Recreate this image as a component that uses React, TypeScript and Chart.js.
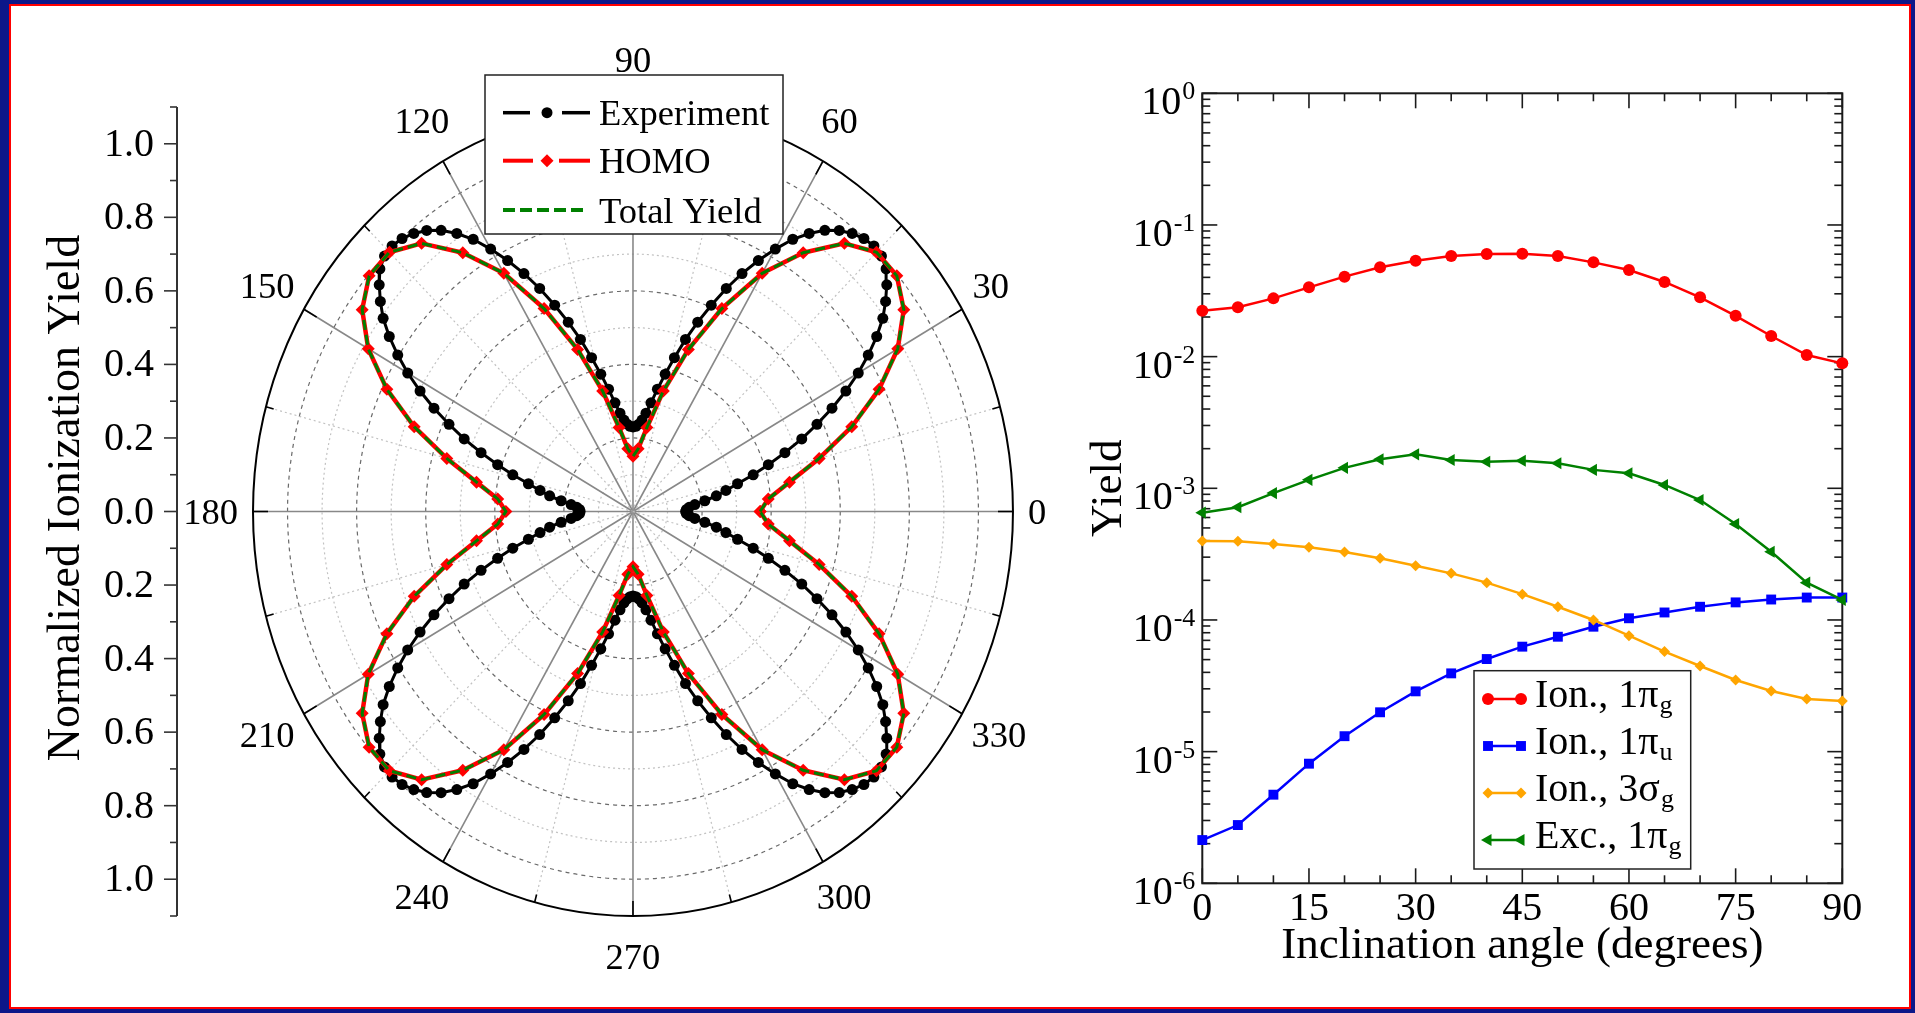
import { useEffect, useRef } from 'react';
import { Chart, registerables } from 'chart.js';

Chart.register(...registerables);

const SERIF = '"Liberation Serif", "Times New Roman", Times, serif';

// ---------------- Left panel (polar plot) data ----------------
// Experiment: one value every 2 degrees, 0..358
const EXPERIMENT_STEP_DEG = 2;
const EXPERIMENT_R = [
  0.153, 0.155, 0.163, 0.180, 0.210, 0.245, 0.275, 0.312, 0.362, 0.412, 0.468, 0.527, 0.583, 0.641, 0.698, 0.753,
  0.803, 0.851, 0.894, 0.928, 0.959, 0.986, 1.000, 1.004, 0.999, 0.987, 0.970, 0.945, 0.912, 0.873, 0.824, 0.773,
  0.720, 0.664, 0.605, 0.548, 0.492, 0.435, 0.385, 0.340, 0.300, 0.270, 0.250, 0.238, 0.232, 0.230,
  0.232, 0.238, 0.250, 0.270, 0.300, 0.340, 0.385, 0.435, 0.492, 0.548, 0.605, 0.664, 0.720, 0.773, 0.824, 0.873,
  0.912, 0.945, 0.970, 0.987, 0.999, 1.004, 1.000, 0.986, 0.959, 0.928, 0.894, 0.851, 0.803, 0.753, 0.698, 0.641,
  0.583, 0.527, 0.468, 0.412, 0.362, 0.312, 0.275, 0.245, 0.210, 0.180, 0.163, 0.155,
  0.153, 0.155, 0.163, 0.180, 0.210, 0.245, 0.275, 0.312, 0.362, 0.412, 0.468, 0.527, 0.583, 0.641, 0.698, 0.753,
  0.803, 0.851, 0.894, 0.928, 0.959, 0.986, 1.000, 1.004, 0.999, 0.987, 0.970, 0.945, 0.912, 0.873, 0.824, 0.773,
  0.720, 0.664, 0.605, 0.548, 0.492, 0.435, 0.385, 0.340, 0.300, 0.270, 0.250, 0.238, 0.232, 0.230,
  0.232, 0.238, 0.250, 0.270, 0.300, 0.340, 0.385, 0.435, 0.492, 0.548, 0.605, 0.664, 0.720, 0.773, 0.824, 0.873,
  0.912, 0.945, 0.970, 0.987, 0.999, 1.004, 1.000, 0.986, 0.959, 0.928, 0.894, 0.851, 0.803, 0.753, 0.698, 0.641,
  0.583, 0.527, 0.468, 0.412, 0.362, 0.312, 0.275, 0.245, 0.210, 0.180, 0.163, 0.155,
];

// HOMO: one value every 5 degrees, 0..355
const HOMO_STEP_DEG = 5;
const HOMO_R = [
  0.368, 0.393, 0.460, 0.558, 0.674, 0.786, 0.885, 0.957, 0.997, 0.997, 0.952, 0.859, 0.748, 0.609, 0.469, 0.339, 0.232, 0.171, 0.150,
  0.171, 0.232, 0.339, 0.469, 0.609, 0.748, 0.859, 0.952, 0.997, 0.997, 0.957, 0.885, 0.786, 0.674, 0.558, 0.460, 0.393,
  0.368, 0.393, 0.460, 0.558, 0.674, 0.786, 0.885, 0.957, 0.997, 0.997, 0.952, 0.859, 0.748, 0.609, 0.469, 0.339, 0.232, 0.171, 0.150,
  0.171, 0.232, 0.339, 0.469, 0.609, 0.748, 0.859, 0.952, 0.997, 0.997, 0.957, 0.885, 0.786, 0.674, 0.558, 0.460, 0.393,
];

// Total yield: one value every 5 degrees, 0..355
const TOTAL_YIELD_STEP_DEG = 5;
const TOTAL_YIELD_R = [
  0.368, 0.393, 0.460, 0.558, 0.674, 0.786, 0.885, 0.957, 0.997, 0.997, 0.952, 0.859, 0.748, 0.609, 0.469, 0.339, 0.232, 0.171, 0.150,
  0.171, 0.232, 0.339, 0.469, 0.609, 0.748, 0.859, 0.952, 0.997, 0.997, 0.957, 0.885, 0.786, 0.674, 0.558, 0.460, 0.393,
  0.368, 0.393, 0.460, 0.558, 0.674, 0.786, 0.885, 0.957, 0.997, 0.997, 0.952, 0.859, 0.748, 0.609, 0.469, 0.339, 0.232, 0.171, 0.150,
  0.171, 0.232, 0.339, 0.469, 0.609, 0.748, 0.859, 0.952, 0.997, 0.997, 0.957, 0.885, 0.786, 0.674, 0.558, 0.460, 0.393,
];

const POLAR_ANGLE_LABELS = [0, 30, 60, 90, 120, 150, 180, 210, 240, 270, 300, 330];
const POLAR_RINGS = [0.1, 0.2, 0.3, 0.4, 0.5, 0.6, 0.7, 0.8, 0.9, 1.0];
const POLAR_OUTER_R = 1.1;
const YIELD_AXIS_TICKS = [
  -1.1, -1.0, -0.9, -0.8, -0.7, -0.6, -0.5, -0.4, -0.3, -0.2, -0.1, 0,
  0.1, 0.2, 0.3, 0.4, 0.5, 0.6, 0.7, 0.8, 0.9, 1.0, 1.1,
];
const POLAR_LEGEND = ['Experiment', 'HOMO', 'Total Yield'];

// ---------------- Right panel data ----------------
const INCLINATION_DEG = [0, 5, 10, 15, 20, 25, 30, 35, 40, 45, 50, 55, 60, 65, 70, 75, 80, 85, 90];
const ION_1PI_G = [0.0223, 0.0237, 0.0277, 0.0336, 0.0405, 0.0477, 0.0535, 0.0581, 0.0602, 0.0605, 0.0581, 0.052, 0.0455, 0.0369, 0.0282, 0.0204, 0.01435, 0.01028, 0.00889];
const ION_1PI_U = [2.13e-6, 2.77e-6, 4.71e-6, 8.1e-6, 1.31e-5, 1.99e-5, 2.87e-5, 3.93e-5, 5.05e-5, 6.27e-5, 7.46e-5, 8.89e-5, 1.03e-4, 1.14e-4, 1.26e-4, 1.36e-4, 1.43e-4, 1.48e-4, 1.48e-4];
const ION_3SIGMA_G = [3.98e-4, 3.96e-4, 3.78e-4, 3.56e-4, 3.28e-4, 2.94e-4, 2.58e-4, 2.26e-4, 1.92e-4, 1.57e-4, 1.26e-4, 1.0e-4, 7.6e-5, 5.75e-5, 4.47e-5, 3.5e-5, 2.89e-5, 2.51e-5, 2.42e-5];
const EXC_1PI_G = [6.53e-4, 7.18e-4, 9.2e-4, 1.16e-3, 1.43e-3, 1.66e-3, 1.81e-3, 1.64e-3, 1.59e-3, 1.62e-3, 1.55e-3, 1.38e-3, 1.3e-3, 1.06e-3, 8.15e-4, 5.36e-4, 3.3e-4, 1.92e-4, 1.42e-4];
const X_TICKS_MAJOR = [0, 15, 30, 45, 60, 75, 90];
const X_TICKS_MINOR = [5, 10, 20, 25, 35, 40, 50, 55, 65, 70, 80, 85];
const Y_DECADE_EXPONENTS = [-6, -5, -4, -3, -2, -1, 0];
const Y_MINOR_MANTISSAS = [2, 3, 4, 5, 6, 7, 8, 9];

const RED = '#ff0000';
const BLUE = '#0000ff';
const ORANGE = '#ffa500';
const GREEN = '#008000';

const RIGHT_LEGEND = [
  { text: 'Ion., 1\u03c0', sub: 'g', color: RED, style: 'circle', r: 6 },
  { text: 'Ion., 1\u03c0', sub: 'u', color: BLUE, style: 'rect', r: 7 },
  { text: 'Ion., 3\u03c3', sub: 'g', color: ORANGE, style: 'rectRot', r: 5.5 },
  { text: 'Exc., 1\u03c0', sub: 'g', color: GREEN, style: 'triLeft', r: 7 },
];

// ---------------- helpers ----------------
function polarPoints(r: number[], stepDeg: number) {
  const pts = r.map((v, i) => {
    const a = (i * stepDeg * Math.PI) / 180;
    return { x: v * Math.cos(a), y: v * Math.sin(a) };
  });
  pts.push({ ...pts[0] });
  return pts;
}

function drawMarker(ctx: CanvasRenderingContext2D, style: string, x: number, y: number, r: number, color: string) {
  ctx.save();
  ctx.fillStyle = color;
  ctx.setLineDash([]);
  ctx.beginPath();
  if (style === 'circle') {
    ctx.arc(x, y, r, 0, Math.PI * 2);
  } else if (style === 'rect') {
    const s = r * Math.SQRT1_2;
    ctx.rect(x - s, y - s, 2 * s, 2 * s);
  } else if (style === 'rectRot') {
    ctx.moveTo(x - r, y);
    ctx.lineTo(x, y - r);
    ctx.lineTo(x + r, y);
    ctx.lineTo(x, y + r);
    ctx.closePath();
  } else if (style === 'triLeft') {
    ctx.moveTo(x - r, y);
    ctx.lineTo(x + r / 2, y - r * 0.866);
    ctx.lineTo(x + r / 2, y + r * 0.866);
    ctx.closePath();
  }
  ctx.fill();
  ctx.restore();
}

function seg(ctx: CanvasRenderingContext2D, x1: number, y1: number, x2: number, y2: number) {
  ctx.beginPath();
  ctx.moveTo(x1, y1);
  ctx.lineTo(x2, y2);
  ctx.stroke();
}

// ---------------- Left plugin ----------------
const polarDecor = {
  id: 'polarDecor',
  beforeDatasetsDraw(chart: any) {
    const { ctx, scales } = chart;
    const xs = scales.x;
    const ys = scales.y;
    const cx = xs.getPixelForValue(0);
    const cy = ys.getPixelForValue(0);
    const kx = xs.getPixelForValue(1) - cx;
    const ky = cy - ys.getPixelForValue(1);
    ctx.save();
    POLAR_RINGS.forEach((r) => {
      const major = Math.round(r * 10) % 2 === 0;
      ctx.beginPath();
      ctx.ellipse(cx, cy, r * kx, r * ky, 0, 0, Math.PI * 2);
      ctx.setLineDash(major ? [4, 4] : [2, 3]);
      ctx.strokeStyle = major ? '#6a6a6a' : '#c2c2c2';
      ctx.lineWidth = 1.2;
      ctx.stroke();
    });
    for (let a = 0; a < 360; a += 15) {
      const major = a % 30 === 0;
      const t = (a * Math.PI) / 180;
      ctx.setLineDash(major ? [] : [2, 3]);
      ctx.strokeStyle = major ? '#888888' : '#c2c2c2';
      ctx.lineWidth = major ? 1.6 : 1.2;
      seg(ctx, cx, cy, cx + POLAR_OUTER_R * kx * Math.cos(t), cy - POLAR_OUTER_R * ky * Math.sin(t));
    }
    ctx.restore();
  },
  afterDatasetsDraw(chart: any) {
    const { ctx, scales, chartArea } = chart;
    const xs = scales.x;
    const ys = scales.y;
    const cx = xs.getPixelForValue(0);
    const cy = ys.getPixelForValue(0);
    const Rx = xs.getPixelForValue(POLAR_OUTER_R) - cx;
    const Ry = cy - ys.getPixelForValue(POLAR_OUTER_R);
    ctx.save();
    ctx.setLineDash([]);
    // outer ellipse
    ctx.strokeStyle = '#000';
    ctx.lineWidth = 2;
    ctx.beginPath();
    ctx.ellipse(cx, cy, Rx, Ry, 0, 0, Math.PI * 2);
    ctx.stroke();
    // ticks on outer ellipse
    ctx.lineWidth = 1.6;
    for (let a = 0; a < 360; a += 15) {
      const t = (a * Math.PI) / 180;
      const px = cx + Rx * Math.cos(t);
      const py = cy - Ry * Math.sin(t);
      const dx = cx - px;
      const dy = cy - py;
      const d = Math.hypot(dx, dy);
      const len = a % 30 === 0 ? 15 : 8;
      seg(ctx, px, py, px + (dx / d) * len, py + (dy / d) * len);
    }
    // angle labels
    ctx.fillStyle = '#000';
    ctx.font = `36.5px ${SERIF}`;
    ctx.textAlign = 'center';
    ctx.textBaseline = 'alphabetic';
    POLAR_ANGLE_LABELS.forEach((a) => {
      const t = (a * Math.PI) / 180;
      const label = String(a);
      const w = ctx.measureText(label).width;
      const h = 25;
      const gapY = Math.sin(t) > 0.01 ? 35 : 28;
      const px = cx + (Rx + 15) * Math.cos(t);
      const py = cy - (Ry + gapY) * Math.sin(t);
      const lx = px + (w / 2) * Math.cos(t);
      const ly = py - (h / 2) * Math.sin(t);
      ctx.fillText(label, lx, ly + h / 2);
    });

    // left vertical axis
    const axX = chartArea.left;
    ctx.strokeStyle = '#333';
    ctx.lineWidth = 2;
    seg(ctx, axX, ys.getPixelForValue(1.1), axX, ys.getPixelForValue(-1.1));
    ctx.font = `40px ${SERIF}`;
    ctx.textAlign = 'right';
    YIELD_AXIS_TICKS.forEach((v) => {
      const py = ys.getPixelForValue(v);
      const major = Math.round(Math.abs(v) * 10) % 2 === 0;
      ctx.lineWidth = 1.6;
      seg(ctx, axX - (major ? 13 : 7), py, axX, py);
      if (major) ctx.fillText(Math.abs(v).toFixed(1), axX - 23, py + 12);
    });
    // axis title
    ctx.save();
    ctx.translate(67, 498);
    ctx.rotate(-Math.PI / 2);
    ctx.textAlign = 'center';
    ctx.textBaseline = 'middle';
    ctx.font = `46px ${SERIF}`;
    ctx.fillText('Normalized Ionization Yield', 0, 0);
    ctx.restore();

    // legend
    const bx = 485;
    const by = 75;
    const bw = 298;
    const bh = 159;
    ctx.fillStyle = '#fff';
    ctx.fillRect(bx, by, bw, bh);
    ctx.strokeStyle = '#222';
    ctx.lineWidth = 1.5;
    ctx.strokeRect(bx, by, bw, bh);
    const rowY = [112.7, 160.7, 210];
    // Experiment
    ctx.strokeStyle = '#000';
    ctx.lineWidth = 3.5;
    seg(ctx, bx + 18, rowY[0], bx + 45, rowY[0]);
    seg(ctx, bx + 77, rowY[0], bx + 105, rowY[0]);
    drawMarker(ctx, 'circle', bx + 62, rowY[0], 5.5, '#000');
    // HOMO
    ctx.strokeStyle = RED;
    ctx.lineWidth = 4;
    seg(ctx, bx + 18, rowY[1], bx + 48, rowY[1]);
    seg(ctx, bx + 74, rowY[1], bx + 105, rowY[1]);
    drawMarker(ctx, 'rectRot', bx + 62, rowY[1], 6.5, RED);
    // Total yield
    ctx.strokeStyle = GREEN;
    ctx.lineWidth = 4;
    ctx.setLineDash([12, 5]);
    seg(ctx, bx + 18, rowY[2], bx + 100, rowY[2]);
    ctx.setLineDash([]);
    ctx.fillStyle = '#000';
    ctx.font = `36.5px ${SERIF}`;
    ctx.textAlign = 'left';
    ctx.textBaseline = 'alphabetic';
    POLAR_LEGEND.forEach((txt, i) => ctx.fillText(txt, bx + 114, rowY[i] + 12.5));
    ctx.restore();
  },
};

// ---------------- Right plugin ----------------
const rightDecor = {
  id: 'rightDecor',
  beforeDatasetsDraw(chart: any) {
    const { ctx, chartArea: a, scales } = chart;
    const x = scales.x;
    const y = scales.y;
    ctx.save();
    ctx.strokeStyle = '#1a1a1a';
    ctx.lineWidth = 2;
    ctx.strokeRect(a.left, a.top, a.right - a.left, a.bottom - a.top);
    ctx.lineWidth = 1.6;
    X_TICKS_MAJOR.forEach((v) => {
      const px = x.getPixelForValue(v);
      seg(ctx, px, a.bottom, px, a.bottom - 15);
      seg(ctx, px, a.top, px, a.top + 15);
    });
    X_TICKS_MINOR.forEach((v) => {
      const px = x.getPixelForValue(v);
      seg(ctx, px, a.bottom, px, a.bottom - 8);
      seg(ctx, px, a.top, px, a.top + 8);
    });
    Y_DECADE_EXPONENTS.forEach((e) => {
      const py = y.getPixelForValue(Math.pow(10, e));
      seg(ctx, a.left, py, a.left + 15, py);
      seg(ctx, a.right, py, a.right - 15, py);
      if (e < 0) {
        Y_MINOR_MANTISSAS.forEach((m) => {
          const pm = y.getPixelForValue(m * Math.pow(10, e));
          seg(ctx, a.left, pm, a.left + 8, pm);
          seg(ctx, a.right, pm, a.right - 8, pm);
        });
      }
    });
    ctx.restore();
  },
  afterDatasetsDraw(chart: any) {
    const { ctx, chartArea: a, scales } = chart;
    const x = scales.x;
    const y = scales.y;
    ctx.save();
    ctx.fillStyle = '#000';
    ctx.textBaseline = 'alphabetic';
    // x tick labels
    ctx.font = `40px ${SERIF}`;
    ctx.textAlign = 'center';
    X_TICKS_MAJOR.forEach((v) => ctx.fillText(String(v), x.getPixelForValue(v), a.bottom + 37));
    // y tick labels 10^n
    Y_DECADE_EXPONENTS.forEach((e) => {
      const py = y.getPixelForValue(Math.pow(10, e));
      const sup = e === 0 ? '0' : '-' + String(-e);
      ctx.font = `26px ${SERIF}`;
      const ws = ctx.measureText(sup).width;
      ctx.font = `40px ${SERIF}`;
      const w10 = ctx.measureText('10').width;
      const right = a.left - 7;
      ctx.textAlign = 'left';
      ctx.fillText('10', right - ws - w10 - 1, py + 21);
      ctx.font = `26px ${SERIF}`;
      ctx.fillText(sup, right - ws, py + 6);
    });
    // axis titles
    ctx.font = `45px ${SERIF}`;
    ctx.textAlign = 'center';
    ctx.fillText('Inclination angle (degrees)', (a.left + a.right) / 2, a.bottom + 75);
    ctx.save();
    ctx.translate(a.left - 93, (a.top + a.bottom) / 2);
    ctx.rotate(-Math.PI / 2);
    ctx.textBaseline = 'middle';
    ctx.font = `45px ${SERIF}`;
    ctx.fillText('Yield', 0, 0);
    ctx.restore();

    // legend
    const bx = a.left + 271.7;
    const by = a.top + 577.4;
    const bw = 216.7;
    const bh = 198.3;
    ctx.fillStyle = '#fff';
    ctx.fillRect(bx, by, bw, bh);
    ctx.strokeStyle = '#222';
    ctx.lineWidth = 1.5;
    ctx.strokeRect(bx, by, bw, bh);
    RIGHT_LEGEND.forEach((it, i) => {
      const base = by + 36.3 + 47 * i;
      const my = base - 8;
      ctx.strokeStyle = it.color;
      ctx.lineWidth = 2.5;
      seg(ctx, bx + 12, my, bx + 50, my);
      drawMarker(ctx, it.style, bx + 14, my, it.r, it.color);
      drawMarker(ctx, it.style, bx + 47, my, it.r, it.color);
      ctx.fillStyle = '#000';
      ctx.textAlign = 'left';
      ctx.font = `40px ${SERIF}`;
      ctx.fillText(it.text, bx + 61, base);
      const w = ctx.measureText(it.text).width;
      ctx.font = `26px ${SERIF}`;
      ctx.fillText(it.sub, bx + 61 + w + 1, base + 6);
    });
    ctx.restore();
  },
};

function leftConfig(): any {
  return {
    type: 'scatter',
    data: {
      datasets: [
        {
          label: 'Experiment',
          data: polarPoints(EXPERIMENT_R, EXPERIMENT_STEP_DEG),
          showLine: true,
          borderColor: '#000',
          backgroundColor: '#000',
          borderWidth: 3,
          pointRadius: 5.5,
          pointStyle: 'circle',
          pointBorderWidth: 0,
          order: 2,
        },
        {
          label: 'HOMO',
          data: polarPoints(HOMO_R, HOMO_STEP_DEG),
          showLine: true,
          borderColor: RED,
          backgroundColor: RED,
          borderWidth: 4.5,
          borderJoinStyle: 'round',
          pointRadius: 6.5,
          pointStyle: 'rectRot',
          pointBorderWidth: 0,
          order: 1,
        },
        {
          label: 'Total Yield',
          data: polarPoints(TOTAL_YIELD_R, TOTAL_YIELD_STEP_DEG),
          showLine: true,
          borderColor: GREEN,
          backgroundColor: GREEN,
          borderWidth: 3,
          borderDash: [10, 5],
          pointRadius: 0,
          order: 0,
        },
      ],
    },
    options: {
      animation: false,
      responsive: false,
      maintainAspectRatio: false,
      devicePixelRatio: 1,
      layout: { padding: { left: 177, right: 11, top: 107, bottom: 97 } },
      scales: {
        x: { type: 'linear', min: -1.32, max: 1.2043, display: false },
        y: { type: 'linear', min: -1.1, max: 1.1, display: false },
      },
      plugins: { legend: { display: false }, tooltip: { enabled: false } },
      elements: { line: { tension: 0 } },
    },
    plugins: [polarDecor],
  };
}

function series(values: number[]) {
  return values.map((v, i) => ({ x: INCLINATION_DEG[i], y: v }));
}

function rightConfig(): any {
  const common = { showLine: true, borderWidth: 2.5, pointBorderWidth: 0, clip: false };
  return {
    type: 'scatter',
    data: {
      datasets: [
        { ...common, label: 'Ion., 1πg', data: series(ION_1PI_G), borderColor: RED, backgroundColor: RED, pointStyle: 'circle', pointRadius: 6, order: 3 },
        { ...common, label: 'Ion., 1πu', data: series(ION_1PI_U), borderColor: BLUE, backgroundColor: BLUE, pointStyle: 'rect', pointRadius: 7, order: 2 },
        { ...common, label: 'Ion., 3σg', data: series(ION_3SIGMA_G), borderColor: ORANGE, backgroundColor: ORANGE, pointStyle: 'rectRot', pointRadius: 5.5, order: 1 },
        { ...common, label: 'Exc., 1πg', data: series(EXC_1PI_G), borderColor: GREEN, backgroundColor: GREEN, pointStyle: 'triangle', pointRotation: -90, pointRadius: 7, order: 0 },
      ],
    },
    options: {
      animation: false,
      responsive: false,
      maintainAspectRatio: false,
      devicePixelRatio: 1,
      layout: { padding: { left: 142.3, right: 72.7, top: 93.3, bottom: 129.7 } },
      scales: {
        x: { type: 'linear', min: 0, max: 90, display: false },
        y: { type: 'logarithmic', min: 1e-6, max: 1, display: false },
      },
      plugins: { legend: { display: false }, tooltip: { enabled: false } },
      elements: { line: { tension: 0 } },
    },
    plugins: [rightDecor],
  };
}

export default function App() {
  const leftRef = useRef<HTMLCanvasElement>(null);
  const rightRef = useRef<HTMLCanvasElement>(null);

  useEffect(() => {
    document.body.style.margin = '0';
    const c1 = new Chart(leftRef.current as HTMLCanvasElement, leftConfig());
    const c2 = new Chart(rightRef.current as HTMLCanvasElement, rightConfig());
    return () => {
      c1.destroy();
      c2.destroy();
    };
  }, []);

  return (
    <div style={{ position: 'relative', width: 1915, height: 1013, background: '#0c1789', overflow: 'hidden' }}>
      <div
        style={{
          position: 'absolute',
          left: 9,
          top: 4,
          width: 1902,
          height: 1005,
          boxSizing: 'border-box',
          border: '2px solid #ff0000',
          background: '#ffffff',
        }}
      />
      <canvas
        ref={leftRef}
        width={1060}
        height={1013}
        style={{ position: 'absolute', left: 0, top: 0, width: 1060, height: 1013 }}
      />
      <canvas
        ref={rightRef}
        width={855}
        height={1013}
        style={{ position: 'absolute', left: 1060, top: 0, width: 855, height: 1013 }}
      />
    </div>
  );
}
